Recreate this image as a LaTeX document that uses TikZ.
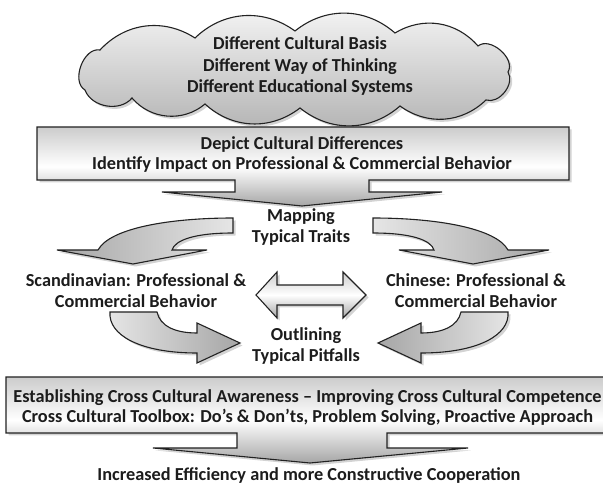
\documentclass[tikz,border=0pt]{standalone}
\usepackage{fontspec}
\setmainfont{Carlito}
\usetikzlibrary{shadows}
\definecolor{txt}{HTML}{1C1C1C}
\definecolor{edge}{HTML}{222222}
\tikzset{
  lbl/.style={font=\bfseries\fontsize{18.3}{21.5}\selectfont, text=txt, align=center, inner sep=0pt},
  boxlbl/.style={lbl, font=\bfseries\fontsize{18.3}{20}\selectfont},
  shp/.style={draw=edge, line width=1.1pt, line join=miter,
    drop shadow={opacity=0.35, shadow xshift=2.5pt, shadow yshift=-2.5pt}},
  vshade/.style={top color=gray!40, bottom color=gray!70, middle color=white},
  cshade/.style={top color=gray!8, bottom color=gray!60},
  lshade/.style={left color=gray!20, right color=gray!70},
  rshade/.style={left color=gray!70, right color=gray!20},
}
\begin{document}
\begin{tikzpicture}[x=1pt,y=-1pt]
\useasboundingbox (0,0) rectangle (603,486);
% cloud
\path[shp, cshade] (85,90) to[bend left=80] (100,50) to[bend left=40] (195,38)
  to[bend left=40] (295,31) to[bend left=40] (395,33) to[bend left=40] (478,46)
  to[bend left=80] (508,72) to[bend left=70] (486,100) to[bend left=40] (400,106)
  to[bend left=40] (300,108) to[bend left=40] (205,104) to[bend left=45] (132,98)
  to[bend left=60] (85,90) -- cycle;
\node[lbl] (cl) at (300,66.5) {Different Cultural Basis\\Different Way of Thinking\\Different Educational Systems};
% box 1 with down arrow
\path[shp, vshade] (37,127) -- (569,127) -- (569,180) -- (369,180) -- (369,192)
  -- (442,192) -- (302,206) -- (162,192) -- (235,192) -- (235,180) -- (37,180) -- cycle;
\node[boxlbl] (b1) at (302,154.5) {Depict Cultural Differences\\Identify Impact on Professional \& Commercial Behavior};
% mapping
\node[lbl] (map) at (301,227) {Mapping\\Typical Traits};
% upper curved arrows
\path[shp, rshade] (233,218) -- (233,233) .. controls (195,233) and (175,240) .. (172,250)
  -- (207,250) -- (133,264) -- (57,250) -- (98,250) .. controls (110,228) and (170,218) .. (233,218) -- cycle;
\path[shp, lshade] (373,218) -- (373,233) .. controls (411,233) and (431,240) .. (434,250)
  -- (399,250) -- (473,264) -- (549,250) -- (508,250) .. controls (496,228) and (436,218) .. (373,218) -- cycle;
% side texts
\node[lbl] (sc) at (136,290.5) {Scandinavian: Professional \&\\Commercial Behavior};
\node[lbl] (cn) at (476,290.5) {Chinese: Professional \&\\Commercial Behavior};
% double arrow
\path[shp, vshade] (256,295) -- (277,272) -- (277,285) -- (343,285) -- (343,272) -- (366,295)
  -- (343,318) -- (343,305) -- (277,305) -- (277,318) -- cycle;
% lower curved arrows
\path[shp, lshade] (110,312) -- (157,312) .. controls (160,326) and (175,333) .. (197,333)
  -- (197,323) -- (240,343) -- (197,363) -- (197,353) .. controls (140,353) and (108,335) .. (110,312) -- cycle;
\path[shp, rshade] (508,312) -- (461,312) .. controls (458,326) and (443,333) .. (421,333)
  -- (421,323) -- (378,343) -- (421,363) -- (421,353) .. controls (478,353) and (510,335) .. (508,312) -- cycle;
\node[lbl] (out) at (306,346) {Outlining\\Typical Pitfalls};
% box 2 with down arrow
\path[shp, vshade] (6,377) -- (625,377) -- (625,433) -- (387,433) -- (387,448)
  -- (468,448) -- (310,463) -- (153,448) -- (237,448) -- (237,433) -- (6,433) -- cycle;
\node[boxlbl] (b2) at (307.5,407.5) {Establishing Cross Cultural Awareness -- Improving Cross Cultural Competence\\Cross Cultural Toolbox: Do’s \& Don’ts, Problem Solving, Proactive Approach};
\node[lbl] (res) at (309,476) {Increased Efficiency and more Constructive Cooperation};
\end{tikzpicture}
\end{document}
